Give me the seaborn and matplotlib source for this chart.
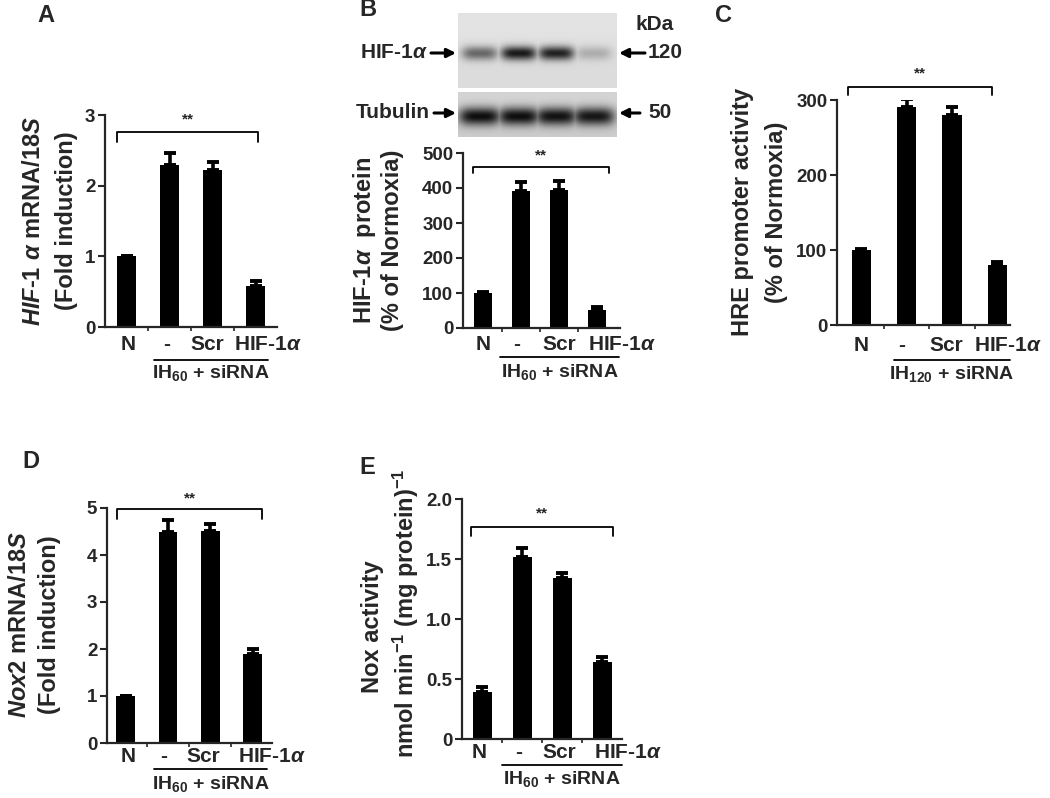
import numpy as np
import pandas as pd
import matplotlib
matplotlib.use("Agg")
import matplotlib.pyplot as plt
import seaborn as sns
from matplotlib.transforms import blended_transform_factory

# ---------------- data ----------------
groups = ["N", "-", "Scr", "HIF-1$\\alpha$"]

a_vals = [1.0, 2.29, 2.22, 0.58]
a_err = [0.01, 0.17, 0.12, 0.07]

b_vals = [100, 392, 395, 52]
b_err = [3, 25, 24, 7]

c_vals = [100, 291, 280, 80]
c_err = [1.5, 10, 11, 4]

d_vals = [1.0, 4.50, 4.52, 1.90]
d_err = [0.0, 0.24, 0.13, 0.10]

e_vals = [0.39, 1.52, 1.34, 0.64]
e_err = [0.045, 0.07, 0.04, 0.045]

a_ticks = [0, 1, 2, 3]
b_ticks = [0, 100, 200, 300, 400, 500]
c_ticks = [0, 100, 200, 300]
d_ticks = [0, 1, 2, 3, 4, 5]
e_ticks = [0, 0.5, 1.0, 1.5, 2.0]
e_ticklabels = ["0", "0.5", "1.0", "1.5", "2.0"]

# western blot band intensities (relative darkness per lane)
hif_band = [0.55, 0.92, 0.88, 0.22]
tub_band = [0.97, 0.97, 0.95, 0.93]

# ---------------- style ----------------
sns.set_style("ticks")
plt.rcParams["font.family"] = ["Liberation Sans", "DejaVu Sans"]
plt.rcParams["font.weight"] = "bold"
plt.rcParams["mathtext.fontset"] = "custom"
plt.rcParams["mathtext.rm"] = "Liberation Sans:bold"
plt.rcParams["mathtext.it"] = "Liberation Sans:bold:italic"
plt.rcParams["mathtext.bf"] = "Liberation Sans:bold"
plt.rcParams["mathtext.sf"] = "Liberation Sans:bold"

W, H = 1050, 798
fig = plt.figure(figsize=(W / 100, H / 100), dpi=100)
fig.patch.set_facecolor("white")


def rect(l, t, r, b):
    return [l / W, 1 - b / H, (r - l) / W, (b - t) / H]


def ftext(x, y, s, **kw):
    fig.text(x / W, 1 - y / H, s, **kw)


YL = 17
XT = 15
YT = 13.5


def panel(px, vals, errs, ticks, ticklabels, ylim, xlim, width, lab_off, lab_y,
          br_x, br_y, star_y, line_x, line_y, ih_y, sub):
    ax = fig.add_axes(rect(*px))
    df = pd.DataFrame({"group": groups, "value": vals})
    sns.barplot(data=df, x="group", y="value", color="black", saturation=1,
                width=width, errorbar=None, linewidth=0, ax=ax)
    ax.errorbar(x=np.arange(len(vals)), y=vals,
                yerr=[np.zeros(len(vals)), errs], fmt="none", ecolor="black",
                elinewidth=2.6, capsize=4.5, capthick=2.8, zorder=3)
    ax.set_xlim(*xlim)
    ax.set_ylim(*ylim)
    ax.set_yticks(ticks)
    ax.set_yticklabels(ticklabels, fontsize=YT, fontweight="bold")
    ax.set_xticks([])
    ax.set_xticks([0.5, 1.5, 2.5], minor=True)
    ax.tick_params(axis="x", which="minor", length=3, width=1.2, direction="out")
    ax.tick_params(axis="y", length=5, width=1.5, direction="out", pad=2)
    ax.set_xlabel("")
    ax.set_ylabel("")
    for s in ["top", "right"]:
        ax.spines[s].set_visible(False)
    for s in ["left", "bottom"]:
        ax.spines[s].set_linewidth(1.6)
    tr = blended_transform_factory(ax.transData, fig.transFigure)
    # category labels
    for i, (g, off) in enumerate(zip(groups, lab_off)):
        ax.text(i + off, 1 - lab_y / H, g, transform=tr, ha="center",
                va="center", fontsize=XT, fontweight="bold")
    # significance bracket
    x0, x1 = br_x
    lo, hi = br_y
    ax.plot([x0, x0, x1, x1], [lo, hi, hi, lo], color="black", lw=1.3,
            clip_on=False)
    ax.text((x0 + x1) / 2, star_y, "**", ha="center", va="center",
            fontsize=11, fontweight="bold", clip_on=False)
    # group line + label
    ax.plot(line_x, [1 - line_y / H] * 2, color="black", lw=1.3,
            transform=tr, clip_on=False)
    ax.text(np.mean(line_x), 1 - ih_y / H, "IH$_{%s}$ + siRNA" % sub,
            transform=tr, ha="center", va="center", fontsize=14,
            fontweight="bold")
    return ax


# Panel A
panel((105, 115, 277, 327), a_vals, a_err, a_ticks, [str(t) for t in a_ticks],
      (0, 3), (-0.5, 3.5), 0.44, (0.03, -0.07, -0.12, 0.30), 345,
      (-0.22, 3.06), (2.62, 2.76), 2.93, (0.63, 3.30), 360, 373, "60")
# Panel B
panel((463, 153, 620, 328), b_vals, b_err, b_ticks, [str(t) for t in b_ticks],
      (0, 500), (-0.53, 3.6), 0.46, (0.0, -0.12, 0.0, 0.66), 345,
      (-0.27, 3.32), (442, 459), 494, (0.45, 3.58), 357, 372, "60")
# Panel C
panel((837, 100, 1010, 325), c_vals, c_err, c_ticks, [str(t) for t in c_ticks],
      (0, 300), (-0.54, 3.28), 0.43, (0.0, -0.12, -0.13, 0.23), 346,
      (-0.3, 2.88), (307, 317), 336, (0.72, 3.28), 360, 374, "120")
# Panel D
panel((107, 508, 272, 743), d_vals, d_err, d_ticks, [str(t) for t in d_ticks],
      (0, 5), (-0.44, 3.46), 0.44, (0.05, -0.1, -0.17, 0.46), 756,
      (-0.2, 3.22), (4.77, 4.98), 5.21, (0.67, 3.34), 769, 784, "60")
# Panel E
panel((462, 499, 622, 739), e_vals, e_err, e_ticks, e_ticklabels,
      (0, 2.0), (-0.51, 3.49), 0.48, (-0.09, -0.1, -0.09, 0.64), 753,
      (-0.29, 3.27), (1.695, 1.77), 1.88, (0.5, 3.49), 765, 779, "60")

# ---------------- y labels ----------------
lab = dict(rotation=90, ha="center", va="center", fontsize=YL, fontweight="bold")
ftext(34, 221, r"$\mathit{HIF}$-$\mathit{1}\ \alpha$ mRNA/$\mathit{18S}$", **lab)
ftext(67, 221, "(Fold induction)", **lab)
ftext(364, 240, "HIF-1$\\alpha$  protein", **lab)
ftext(393, 240, "(% of Normoxia)", **lab)
ftext(743, 212, "HRE promoter activity", **lab)
ftext(776, 212, "(% of Normoxia)", **lab)
ftext(20, 625, r"$\mathit{Nox2}$ mRNA/$\mathit{18S}$", **lab)
ftext(50, 625, "(Fold induction)", **lab)
ftext(373, 627, "Nox activity", **lab)
ftext(406, 613, "nmol min$^{-1}$ (mg protein)$^{-1}$", **lab)

# panel letters
for x, y, s in [(46, 15, "A"), (368, 10, "B"), (723, 15, "C"),
                (31, 462, "D"), (367, 467, "E")]:
    ftext(x, y, s, ha="center", va="center", fontsize=17, fontweight="bold")

# ---------------- western blot (panel B) ----------------
lane_pos = [0.135, 0.38, 0.615, 0.85]


def blot(px, intens, bg, half_w, half_h, yc):
    l, t, r, b = px
    w, h = r - l, b - t
    ax = fig.add_axes(rect(*px))
    yy, xx = np.mgrid[0:h, 0:w]
    img = np.full((h, w), bg, dtype=float)
    img += 0.03 * np.exp(-((yy - h * 0.15) / (h * 0.3)) ** 2)
    dark = np.zeros_like(img)
    for c, v in zip(lane_pos, intens):
        g = np.exp(-((xx - c * w) / half_w) ** 4 - ((yy - yc * h) / half_h) ** 2)
        dark = np.maximum(dark, v * g)
    img = img - (img - 0.03) * dark
    ax.imshow(img, cmap="gray", vmin=0, vmax=1, aspect="auto",
              interpolation="bilinear")
    ax.set_axis_off()


blot((458, 13, 617, 88), hif_band, 0.86, 18, 7, 0.53)
blot((458, 92, 617, 137), tub_band, 0.80, 21, 9, 0.53)

bl = dict(va="center", fontsize=15, fontweight="bold")
ftext(428, 53, "HIF-1$\\alpha$", ha="right", **bl)
ftext(430, 113, "Tubulin", ha="right", **bl)
ftext(648, 53, "120", ha="left", **bl)
ftext(648, 113, "50", ha="left", **bl)
ftext(655, 25, "kDa", ha="center", **bl)

arrow = dict(arrowstyle="-|>", lw=2.2, color="black", mutation_scale=13,
             shrinkA=0, shrinkB=0)
for (x0, x1, y) in [(431, 456, 53), (434, 456, 113), (645, 619, 53),
                    (640, 619, 113)]:
    fig.add_artist(matplotlib.patches.FancyArrowPatch(
        (x0 / W, 1 - y / H), (x1 / W, 1 - y / H), transform=fig.transFigure,
        **arrow))

fig.savefig("out.png", dpi=100, facecolor="white")
